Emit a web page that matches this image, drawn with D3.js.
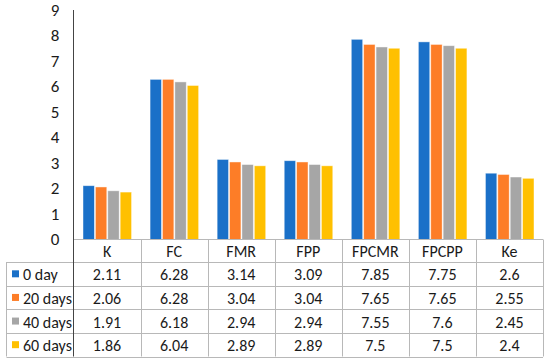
<!DOCTYPE html>
<html>
<head>
<meta charset="utf-8">
<script src="https://cdn.jsdelivr.net/npm/d3@7"></script>
<style>
  body { margin: 0; background: #fff; }
  svg { display: block; font-family: Carlito, Lato, "Open Sans", sans-serif; }
</style>
</head>
<body>
<div id="chart"></div>
<script>
var categories = ["K", "FC", "FMR", "FPP", "FPCMR", "FPCPP", "Ke"];
var seriesNames = ["0 day", "20 days", "40 days", "60 days"];
var day0 = [2.11, 6.28, 3.14, 3.09, 7.85, 7.75, 2.6];
var day20 = [2.06, 6.28, 3.04, 3.04, 7.65, 7.65, 2.55];
var day40 = [1.91, 6.18, 2.94, 2.94, 7.55, 7.6, 2.45];
var day60 = [1.86, 6.04, 2.89, 2.89, 7.5, 7.5, 2.4];
var yTicks = [0, 1, 2, 3, 4, 5, 6, 7, 8, 9];
var colors = ["#1a70c8", "#fd7d27", "#a6a6a6", "#ffc000"];

var values = [day0, day20, day40, day60];

var width = 550, height = 362;
var plot = { left: 73.5, right: 543, top: 10, bottom: 239.5 };
var tableBottom = 356.5, tableLeft = 6.5, headerBottom = 262;

var svg = d3.select("#chart").append("svg")
    .attr("width", width)
    .attr("height", height);

// scales
var x = d3.scaleBand().domain(categories).range([plot.left, plot.right]);
var xInner = d3.scaleBand().domain(d3.range(seriesNames.length))
    .range([9.5, x.bandwidth() - 9]).paddingInner(0.08);
var y = d3.scaleLinear().domain([0, 9]).range([plot.bottom, plot.top]);
var rowY = d3.scaleBand().domain(seriesNames).range([headerBottom, tableBottom]);

// y axis labels
svg.append("g")
    .selectAll("text")
    .data(yTicks)
    .enter().append("text")
    .attr("x", 55)
    .attr("y", d => y(d))
    .attr("dy", "0.35em")
    .attr("text-anchor", "middle")
    .style("font-size", "17px")
    .style("fill", "#1a1a1a")
    .text(d => d);

// bars
var flat = [];
values.forEach(function (arr, s) {
    arr.forEach(function (v, i) {
        flat.push({ s: s, cat: categories[i], value: v });
    });
});

svg.append("g")
    .selectAll("rect")
    .data(flat)
    .enter().append("rect")
    .attr("x", d => x(d.cat) + xInner(d.s))
    .attr("y", d => y(d.value))
    .attr("width", xInner.bandwidth())
    .attr("height", d => y(0) - y(d.value))
    .style("fill", d => colors[d.s])
    .style("stroke", "rgba(255,255,255,0.55)")
    .style("stroke-width", 0.8);

// table grid
var grid = svg.append("g").style("stroke", "#b8b8b8").style("stroke-width", 1).style("fill", "none");

// horizontal lines
grid.append("line")
    .attr("x1", plot.left).attr("x2", plot.right)
    .attr("y1", plot.bottom).attr("y2", plot.bottom);
grid.selectAll(".hline")
    .data([headerBottom].concat(seriesNames.map(d => rowY(d) + rowY.bandwidth())))
    .enter().append("line")
    .attr("x1", tableLeft).attr("x2", plot.right)
    .attr("y1", d => Math.round(d) + 0.5).attr("y2", d => Math.round(d) + 0.5);

// vertical lines
grid.selectAll(".vline")
    .data(categories.slice(1).concat(["end"]))
    .enter().append("line")
    .attr("x1", d => Math.round(d === "end" ? plot.right : x(d)) + 0.5)
    .attr("x2", d => Math.round(d === "end" ? plot.right : x(d)) + 0.5)
    .attr("y1", plot.bottom).attr("y2", tableBottom);
grid.append("line")
    .attr("x1", tableLeft).attr("x2", tableLeft)
    .attr("y1", headerBottom).attr("y2", tableBottom);

// value axis line
svg.append("line")
    .attr("x1", plot.left).attr("x2", plot.left)
    .attr("y1", plot.top).attr("y2", tableBottom)
    .style("stroke", "#444").style("stroke-width", 1);

// header labels
svg.append("g")
    .selectAll("text")
    .data(categories)
    .enter().append("text")
    .attr("x", d => x(d) + x.bandwidth() / 2)
    .attr("y", (plot.bottom + headerBottom) / 2 + 1)
    .attr("dy", "0.35em")
    .attr("text-anchor", "middle")
    .style("font-size", "16px")
    .style("fill", "#1a1a1a")
    .text(d => d);

// row labels with legend keys
var rows = svg.append("g")
    .selectAll("g")
    .data(seriesNames)
    .enter().append("g")
    .attr("transform", d => `translate(0, ${rowY(d) + rowY.bandwidth() / 2})`);

rows.append("rect")
    .attr("x", 12)
    .attr("y", -3.5)
    .attr("width", 7)
    .attr("height", 7)
    .style("fill", (d, i) => colors[i]);

rows.append("text")
    .attr("x", 23)
    .attr("y", 1)
    .attr("dy", "0.35em")
    .style("font-size", "16px")
    .style("fill", "#1a1a1a")
    .text(d => d);

// row values
rows.each(function (name, s) {
    d3.select(this).selectAll(".val")
        .data(values[s])
        .enter().append("text")
        .attr("x", (d, i) => x(categories[i]) + x.bandwidth() / 2)
        .attr("y", 1)
        .attr("dy", "0.35em")
        .attr("text-anchor", "middle")
        .style("font-size", "16px")
        .style("fill", "#1a1a1a")
        .text(d => d);
});
</script>
</body>
</html>
